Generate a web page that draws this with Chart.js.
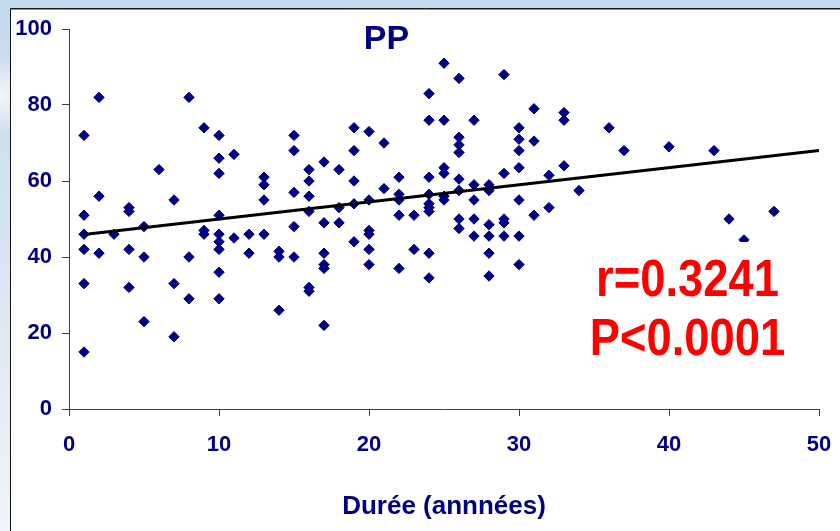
<!DOCTYPE html>
<html>
<head>
<meta charset="utf-8">
<title>PP</title>
<script src="https://cdn.jsdelivr.net/npm/chart.js@4.4.1/dist/chart.umd.min.js"></script>
<style>
  html, body { margin: 0; padding: 0; background: #ffffff; }
  canvas { display: block; }
</style>
</head>
<body>
<canvas id="chart" width="840" height="531"></canvas>
<script>
// Duration of disease (years) and PP score for each patient
const durations = [
  1, 1, 1, 1, 1, 1,
  2, 2, 2,
  3,
  4, 4, 4, 4,
  5, 5, 5,
  6,
  7, 7, 7,
  8, 8, 8,
  9, 9, 9,
  10, 10, 10, 10, 10, 10, 10, 10, 10,
  11, 11,
  12, 12,
  13, 13, 13, 13,
  14, 14, 14,
  15, 15, 15, 15, 15,
  16, 16, 16, 16, 16, 16,
  17, 17, 17, 17, 17, 17,
  18, 18, 18,
  19, 19, 19, 19, 19,
  20, 20, 20, 20, 20, 20,
  21, 21,
  22, 22, 22, 22, 22,
  23, 23,
  24, 24, 24, 24, 24, 24, 24, 24, 24,
  25, 25, 25, 25, 25, 25,
  26, 26, 26, 26, 26, 26, 26, 26,
  27, 27, 27, 27, 27,
  28, 28, 28, 28, 28, 28,
  29, 29, 29, 29, 29,
  30, 30, 30, 30, 30, 30, 30,
  31, 31, 31,
  32, 32,
  33, 33, 33,
  34,
  36,
  37,
  40,
  43,
  44,
  45,
  47
];
const ppValues = [
  72, 51, 46, 42, 33, 15,
  82, 56, 41,
  46,
  53, 52, 42, 32,
  48, 40, 23,
  63,
  55, 33, 19,
  82, 40, 29,
  74, 47, 46,
  72, 66, 62, 51, 46, 44, 42, 36, 29,
  67, 45,
  46, 41,
  61, 59, 55, 46,
  41.5, 40, 26,
  72, 68, 57, 48, 40,
  63, 60, 56, 52, 32, 31,
  65, 49, 41, 38, 37, 22,
  63, 53, 49,
  74, 68, 60, 54, 44,
  73, 55, 47, 46, 42, 38,
  70, 58,
  61, 56.5, 55, 51, 37,
  51, 42,
  83, 76, 61, 56.5, 54, 53, 52, 41, 34.5,
  91, 76, 63.5, 62, 56, 55,
  87, 71.5, 69.5, 67.5, 60.5, 57.5, 50, 47.5,
  76, 59, 55, 50, 45.5,
  59, 57.5, 48.5, 45.5, 41, 35,
  88, 62, 50, 49, 45.5,
  74, 71, 68, 63.5, 55, 45.5, 38,
  79, 70.5, 51,
  61.5, 53,
  78, 76, 64,
  57.5,
  74,
  68,
  69,
  68,
  50,
  44.5,
  52
];

// Fitted regression line end points
const trendX = [1, 50];
const trendY = [45.9, 68.0];

const xTicks = [0, 10, 20, 30, 40, 50];
const yTicks = [0, 20, 40, 60, 80, 100];

const chartTitle = 'PP';
const xTitle = 'Durée (annnées)';
const statLines = ['r=0.3241', 'P<0.0001'];

const FONT = '"Liberation Sans", Arial, Helvetica, sans-serif';
const NAVY = '#000080';
const AXIS = '#33339a';

const points = durations.map((d, i) => ({ x: d, y: ppValues[i] }));
const trend = trendX.map((d, i) => ({ x: d, y: trendY[i] }));

// Slide backdrop: pale blue frame with a white panel
const slideBackground = {
  id: 'slideBackground',
  beforeDraw(chart) {
    const ctx = chart.ctx;
    const W = chart.width, H = chart.height;
    ctx.save();
    const g = ctx.createLinearGradient(0, 0, 0, H);
    g.addColorStop(0, '#c4d9ee');
    g.addColorStop(0.45, '#d6e4f2');
    g.addColorStop(1, '#f1f4f9');
    ctx.fillStyle = g;
    ctx.fillRect(0, 0, W, H);
    // soft light swirl on the left edge
    const r = ctx.createRadialGradient(0, 95, 2, 0, 95, 40);
    r.addColorStop(0, 'rgba(255,255,255,0.75)');
    r.addColorStop(1, 'rgba(255,255,255,0)');
    ctx.fillStyle = r;
    ctx.fillRect(0, 50, 12, 90);
    ctx.fillStyle = '#ffffff';
    ctx.fillRect(10, 8, W - 10, H - 8);
    ctx.strokeStyle = '#8a8a8a';
    ctx.lineWidth = 1;
    ctx.beginPath();
    ctx.moveTo(11, 9.5); ctx.lineTo(W, 9.5);
    ctx.stroke();
    ctx.strokeStyle = '#151515';
    ctx.beginPath();
    ctx.moveTo(10.5, H); ctx.lineTo(10.5, 8.5); ctx.lineTo(W, 8.5);
    ctx.stroke();
    ctx.restore();
  }
};

// Title and correlation statistics
const annotations = {
  id: 'annotations',
  afterDatasetsDraw(chart) {
    const ctx = chart.ctx;
    ctx.save();
    ctx.fillStyle = '#ffffff';
    ctx.fillRect(582, 242, 216, 128);
    ctx.textAlign = 'center';
    ctx.textBaseline = 'middle';
    ctx.fillStyle = '#ff0000';
    ctx.font = 'bold 51px ' + FONT;
    statLines.forEach((t, i) => {
      ctx.save();
      ctx.translate(687.5, 282 + i * 58.5);
      ctx.scale(0.89, 1);
      ctx.fillText(t, 0, 0);
      ctx.restore();
    });
    ctx.fillStyle = NAVY;
    ctx.font = 'bold 34px ' + FONT;
    ctx.fillText(chartTitle, 386.5, 40);
    ctx.restore();
  }
};

new Chart(document.getElementById('chart'), {
  type: 'scatter',
  data: {
    datasets: [
      {
        data: trend,
        showLine: true,
        borderColor: '#000000',
        borderWidth: 3,
        pointRadius: 0,
        fill: false,
        clip: false,
        order: 0
      },
      {
        data: points,
        pointStyle: 'rectRot',
        pointRadius: 5.2,
        pointBackgroundColor: NAVY,
        pointBorderColor: NAVY,
        pointBorderWidth: 1,
        showLine: false,
        order: 1
      }
    ]
  },
  options: {
    responsive: false,
    animation: false,
    events: [],
    layout: { padding: { left: 0, right: 21, top: 29, bottom: 0 } },
    plugins: {
      legend: { display: false },
      tooltip: { enabled: false },
      title: { display: false }
    },
    scales: {
      x: {
        type: 'linear',
        min: 0,
        max: 50,
        afterBuildTicks: s => { s.ticks = xTicks.map(v => ({ value: v })); },
        afterFit: s => { s.height = 122; s.paddingLeft = 0; s.paddingRight = 0; },
        grid: { drawOnChartArea: false, drawTicks: true, tickLength: 7, color: AXIS, lineWidth: 1 },
        border: { display: true, color: AXIS, width: 1 },
        ticks: {
          color: NAVY,
          padding: 16,
          maxRotation: 0,
          autoSkip: false,
          font: { family: FONT, size: 22, weight: 'bold' }
        },
        title: {
          display: true,
          text: xTitle,
          color: NAVY,
          font: { family: FONT, size: 26, weight: 'bold', lineHeight: 1.2 },
          padding: { top: 0, bottom: 9 }
        }
      },
      y: {
        type: 'linear',
        min: 0,
        max: 100,
        afterBuildTicks: s => { s.ticks = yTicks.map(v => ({ value: v })); },
        afterFit: s => { s.width = 69; s.paddingTop = 0; s.paddingBottom = 0; },
        grid: { drawOnChartArea: false, drawTicks: true, tickLength: 7, color: AXIS, lineWidth: 1 },
        border: { display: true, color: AXIS, width: 1 },
        ticks: {
          color: NAVY,
          padding: 10,
          autoSkip: false,
          font: { family: FONT, size: 22, weight: 'bold' }
        }
      }
    }
  },
  plugins: [slideBackground, annotations]
});
</script>
</body>
</html>
